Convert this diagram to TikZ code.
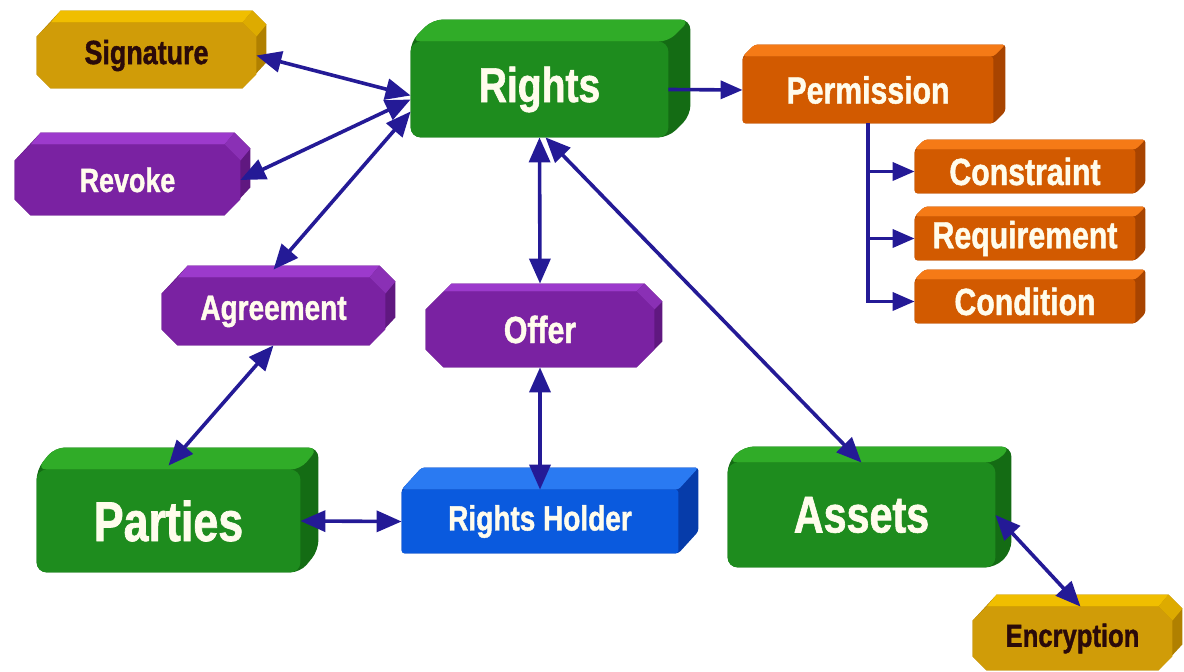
\documentclass[tikz,border=0pt]{standalone}
\usepackage{fontspec}
\newfontfamily\lblfont[FakeStretch=0.8,FakeBold=1.2]{Liberation Sans}
\usetikzlibrary{arrows.meta,calc}
\pgfdeclarelayer{background}
\pgfsetlayers{background,main}
\definecolor{goldF}{RGB}{208,156,8}
\definecolor{goldT}{RGB}{240,190,0}
\definecolor{goldS}{RGB}{176,128,0}
\definecolor{purpF}{RGB}{122,34,162}
\definecolor{purpT}{RGB}{156,58,204}
\definecolor{purpS}{RGB}{96,24,128}
\definecolor{grnF}{RGB}{30,140,30}
\definecolor{grnT}{RGB}{48,172,40}
\definecolor{grnS}{RGB}{20,108,20}
\definecolor{orgF}{RGB}{210,90,0}
\definecolor{orgT}{RGB}{245,122,22}
\definecolor{orgS}{RGB}{168,68,0}
\definecolor{bluF}{RGB}{10,90,222}
\definecolor{bluT}{RGB}{42,122,242}
\definecolor{bluS}{RGB}{6,60,170}
\definecolor{arrowc}{RGB}{36,26,150}
\definecolor{txtL}{RGB}{255,252,236}
\definecolor{txtD}{RGB}{42,10,10}
\newcommand{\octo}[5]{% name, colour prefix, chamfer, dx, dy
\fill[#2S] ([xshift=#3]#1.south west) -- ([xshift=-#3]#1.south east) -- ([shift={(#4,#3+#5)}]#1.south east) -- ([shift={(#4,-#3+#5)}]#1.north east) -- ([shift={(-#3+#4,#5)}]#1.north east) -- ([shift={(#3+#4,#5)}]#1.north west) -- ([yshift=-#3]#1.north west) -- ([yshift=#3]#1.south west) -- cycle;
\fill[#2T] ([xshift=#3]#1.north west) -- ([xshift=-#3]#1.north east) -- ([shift={(-#3+#4,#5)}]#1.north east) -- ([shift={(#3+#4,#5)}]#1.north west) -- cycle;
\fill[#2T!70!#2S] ([xshift=-#3]#1.north east) -- ([yshift=-#3]#1.north east) -- ([shift={(#4,-#3+#5)}]#1.north east) -- ([shift={(-#3+#4,#5)}]#1.north east) -- cycle;
\fill[#2F] ([xshift=#3]#1.south west) -- ([xshift=-#3]#1.south east) -- ([yshift=#3]#1.south east) -- ([yshift=-#3]#1.north east) -- ([xshift=-#3]#1.north east) -- ([xshift=#3]#1.north west) -- ([yshift=-#3]#1.north west) -- ([yshift=#3]#1.south west) -- cycle;
}
\newcommand{\slab}[5]{% name, colour prefix, dx, dy, radius
\fill[#2S, rounded corners=#5] (#1.south west) -- (#1.south east) -- ([shift={(#3,#4)}]#1.south east) -- ([shift={(#3,#4)}]#1.north east) -- ([shift={(#3,#4)}]#1.north west) -- (#1.north west) -- cycle;
\fill[#2T, rounded corners=#5] (#1.north west) -- (#1.north east) -- ([shift={(#3,#4)}]#1.north east) -- ([shift={(#3,#4)}]#1.north west) -- cycle;
\fill[#2F, rounded corners=#5] (#1.south west) rectangle (#1.north east);
}
\tikzset{
  lbl/.style={inner sep=0pt, draw=none},
  fs/.style={font={\lblfont\bfseries\fontsize{#1pt}{#1pt}\selectfont}},
  lt/.style={text=txtL},
  dk/.style={text=txtD},
  link/.style={draw=arrowc, line width=1.8pt, {Triangle[length=12.5pt,width=10.5pt]}-{Triangle[length=12.5pt,width=10.5pt]}},
  one/.style={draw=arrowc, line width=1.8pt, -{Triangle[length=11pt,width=9pt]}},
}
\begin{document}
\begin{tikzpicture}[x=0.5pt,y=-0.5pt]
\useasboundingbox (0,0) rectangle (1184,672);
% nodes (front faces)
\node[lbl,dk,fs=16.8,minimum width=109.5pt,minimum height=32.5pt] (sig) at (146.5,55.5) {Signature};
\node[lbl,lt,fs=16.8,minimum width=112.5pt,minimum height=35pt] (rev) at (127.5,180) {Revoke};
\node[lbl,lt,fs=24.4,minimum width=128.5pt,minimum height=47.5pt] (rights) at (539.5,89.5) {Rights};
\node[lbl,lt,fs=18.9,minimum width=125pt,minimum height=33pt] (perm) at (868,90) {Permission};
\node[lbl,lt,fs=18.9,minimum width=110pt,minimum height=21.5pt] (con) at (1025,171.5) {Constraint};
\node[lbl,lt,fs=18.9,minimum width=110pt,minimum height=21.5pt] (req) at (1025,238.5) {Requirement};
\node[lbl,lt,fs=18.9,minimum width=110pt,minimum height=21.5pt] (cond) at (1025,301.5) {Condition};
\node[lbl,lt,fs=17.5,minimum width=111.5pt,minimum height=33.5pt] (agr) at (273.5,311.5) {Agreement};
\node[lbl,lt,fs=18.9,minimum width=114pt,minimum height=37.5pt] (off) at (540,329.5) {Offer};
\node[lbl,lt,fs=28,minimum width=131.5pt,minimum height=51pt] (par) at (168.5,521) {Parties};
\node[lbl,lt,fs=17.5,minimum width=138pt,minimum height=31.5pt] (rh) at (540,521.5) {Rights Holder};
\node[lbl,lt,fs=25.8,minimum width=133.5pt,minimum height=52pt] (ass) at (861.5,515) {Assets};
\node[lbl,dk,fs=16,minimum width=99.5pt,minimum height=31.5pt] (enc) at (1072.5,638.5) {Encryption};
% 3D bodies
\begin{pgfonlayer}{background}
\octo{sig}{gold}{7pt}{5pt}{6pt}
\octo{rev}{purp}{8pt}{5pt}{6pt}
\octo{agr}{purp}{8pt}{5pt}{6pt}
\octo{off}{purp}{9pt}{4pt}{4pt}
\octo{enc}{gold}{7pt}{5pt}{6pt}
\slab{rights}{grn}{11pt}{11pt}{5pt}
\slab{par}{grn}{9pt}{11pt}{5pt}
\slab{ass}{grn}{8pt}{8pt}{5pt}
\slab{rh}{blu}{10pt}{11pt}{1.5pt}
\slab{perm}{org}{6pt}{6pt}{1.5pt}
\slab{con}{org}{5pt}{5pt}{1.5pt}
\slab{req}{org}{5pt}{5pt}{1.5pt}
\slab{cond}{org}{5pt}{5pt}{1.5pt}
\end{pgfonlayer}
% connectors
\draw[link] (sig.east) -- ([yshift=-3pt]rights.west);
\draw[link] (rev.east) -- ([yshift=-5pt]rights.west);
\draw[link] ([yshift=4pt]agr.north) -- ([yshift=-11pt]rights.west);
\draw[link] (rights.south) -- ([yshift=4pt]off.north);
\draw[link] ([xshift=3pt]rights.south) -- (ass.north);
\draw[one] (rights.east) -- (perm.west);
\draw[one] (perm.south) |- (cond.west);
\draw[one] (perm.south |- con.west) -- (con.west);
\draw[one] (perm.south |- req.west) -- (req.west);
\draw[link] (agr.south) -- ([yshift=2pt]par.north);
\draw[link] (off.south) -- (rh.north);
\draw[link] (par.east) -- (rh.west);
\draw[link] (ass.east) -- ([xshift=4pt]enc.north);
\end{tikzpicture}
\end{document}
